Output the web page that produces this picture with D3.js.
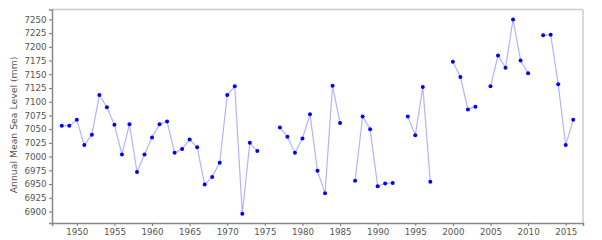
<!DOCTYPE html>
<meta charset="utf-8" />
<script src="https://d3js.org/d3.v7.min.js"></script>
<style>
  body { margin: 0; background: white; }
  .tick text { font-family: "DejaVu Sans", sans-serif; font-size: 8.7px; fill: #555; }
  .tick line { stroke: #777; }
</style>
<body>
<svg id="chart" width="602" height="240"></svg>
<script>
  // years 1948-2016, null = missing year
  const years = d3.range(1948, 2017);
  const seaLevel = [
    7056, 7056, 7067, 7021, 7040, 7112, 7090, 7058, 7004, 7059, // 1948-1957
    6972, 7004, 7035, 7059, 7064, 7007, 7014, 7031, 7017, 6949, // 1958-1967
    6963, 6989, 7112, 7128, 6896, 7025, 7010, null, null, 7053, // 1968-1977
    7036, 7007, 7033, 7077, 6974, 6933, 7129, 7061, null, 6956, // 1978-1987
    7073, 7050, 6946, 6951, 6952, null, 7073, 7039, 7127, 6954, // 1988-1997
    null, null, 7173, 7145, 7086, 7091, null, 7128, 7184, 7162, // 1998-2007
    7250, 7175, 7152, null, 7221, 7222, 7132, 7021, 7067        // 2008-2016
  ];
  const yTicks = d3.range(6900, 7251, 25);
  const xTicks = d3.range(1950, 2016, 5);

  const data = years.map((y, i) => ({ year: y, value: seaLevel[i] }));

  const svg = d3.select("#chart");
  const plotLeft = 52, plotRight = 583, plotTop = 9.5, plotBottom = 223;

  const x = d3.scaleLinear().domain([1946.7, 2017.3]).range([plotLeft, plotRight]);
  const y = d3.scaleLinear().domain([6879, 7268]).range([plotBottom, plotTop]);

  // frame (top/right lighter)
  svg.append("line").attr("x1", plotLeft).attr("x2", plotRight).attr("y1", plotTop).attr("y2", plotTop)
    .attr("stroke", "#ccc").attr("stroke-width", 1.5);
  svg.append("line").attr("x1", plotRight).attr("x2", plotRight).attr("y1", plotTop).attr("y2", plotBottom)
    .attr("stroke", "#ccc").attr("stroke-width", 1.5);

  svg.append("g")
    .attr("transform", `translate(0,${plotBottom})`)
    .call(d3.axisBottom(x).tickValues(xTicks).tickFormat(d3.format("d")).tickSize(3).tickPadding(3))
    .call(g => g.select(".domain").attr("stroke", "#888").attr("stroke-width", 1.5));

  svg.append("g")
    .attr("transform", `translate(${plotLeft},0)`)
    .call(d3.axisLeft(y).tickValues(yTicks).tickFormat(d3.format("d")).tickSize(3).tickPadding(2.5))
    .call(g => g.select(".domain").attr("stroke", "#888").attr("stroke-width", 1.5));

  svg.append("text")
    .attr("transform", "translate(17,125) rotate(-90)")
    .attr("text-anchor", "middle")
    .attr("font-family", "DejaVu Sans, sans-serif")
    .attr("font-size", 9.3)
    .attr("fill", "#555")
    .text("Annual Mean Sea Level (mm)");

  const line = d3.line()
    .defined(d => d.value !== null)
    .x(d => x(d.year))
    .y(d => y(d.value));

  svg.append("path")
    .datum(data)
    .attr("d", line)
    .attr("fill", "none")
    .attr("stroke", "#b3b3ff")
    .attr("stroke-width", 1.2);

  svg.append("g")
    .selectAll("circle")
    .data(data.filter(d => d.value !== null))
    .join("circle")
    .attr("cx", d => x(d.year))
    .attr("cy", d => y(d.value))
    .attr("r", 2)
    .attr("fill", "#0000ff");
</script>
</body>
